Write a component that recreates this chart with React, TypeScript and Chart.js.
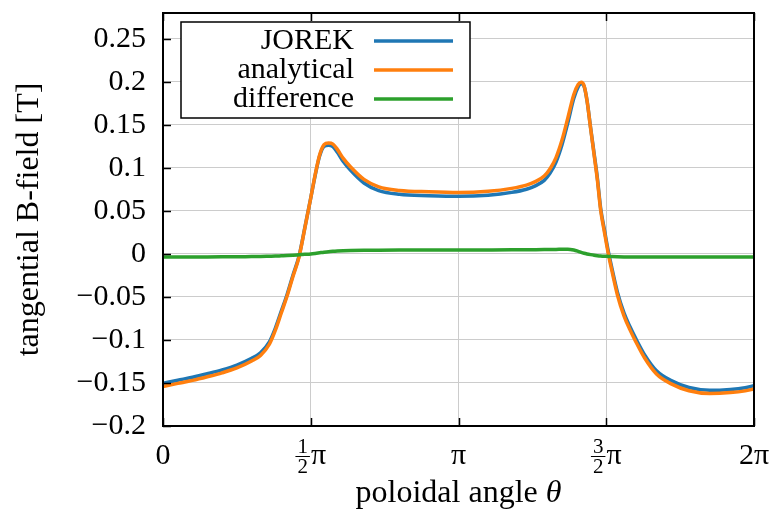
import React, { useEffect, useRef } from 'react';
import { Chart, registerables } from 'chart.js';

Chart.register(...registerables);

// poloidal angle in units of pi
const thetaOverPi = [
  0, 0.05, 0.1, 0.15, 0.2, 0.25, 0.3, 0.33, 0.36, 0.38,
  0.4, 0.42, 0.44, 0.46, 0.48, 0.5, 0.515, 0.53, 0.545, 0.56,
  0.575, 0.59, 0.61, 0.635, 0.68, 0.73, 0.8, 0.9, 1.0, 1.1,
  1.18, 1.23, 1.26, 1.29, 1.31, 1.33, 1.35, 1.37, 1.39, 1.405,
  1.415, 1.425, 1.435, 1.447, 1.459, 1.47, 1.481, 1.494, 1.507, 1.52,
  1.538, 1.56, 1.58, 1.6, 1.63, 1.67, 1.72, 1.78, 1.85, 1.92,
  1.97, 2.0,
];

const jorek = [
  -0.1503, -0.1468, -0.1434, -0.1393, -0.1348, -0.1292, -0.1214, -0.115, -0.1023, -0.0865,
  -0.0668, -0.0471, -0.0245, -0.003, 0.0305, 0.065, 0.0914, 0.1137, 0.125, 0.1264,
  0.1247, 0.1182, 0.1074, 0.0971, 0.0824, 0.0736, 0.0693, 0.0677, 0.0669, 0.0682,
  0.0715, 0.0752, 0.0791, 0.0855, 0.0939, 0.1068, 0.1266, 0.1525, 0.1805, 0.194,
  0.1977, 0.1947, 0.178, 0.1468, 0.1165, 0.088, 0.0532, 0.0276, 0.0029, -0.0179,
  -0.0447, -0.0685, -0.0844, -0.0984, -0.1173, -0.1358, -0.1473, -0.1553, -0.1585, -0.1575,
  -0.1555, -0.1533,
];

const analytical = [
  -0.154, -0.1505, -0.147, -0.1428, -0.1382, -0.1325, -0.1245, -0.118, -0.105, -0.089,
  -0.069, -0.049, -0.026, -0.004, 0.03, 0.065, 0.092, 0.115, 0.127, 0.129,
  0.1277, 0.1215, 0.111, 0.101, 0.0866, 0.078, 0.0738, 0.0722, 0.0714, 0.0728,
  0.0762, 0.08, 0.084, 0.0905, 0.099, 0.112, 0.132, 0.158, 0.185, 0.197,
  0.1995, 0.1955, 0.178, 0.146, 0.115, 0.086, 0.051, 0.025, 0.0, -0.021,
  -0.048, -0.072, -0.088, -0.102, -0.121, -0.1395, -0.151, -0.159, -0.1622, -0.1612,
  -0.1592, -0.157,
];

const difference = [
  -0.0037, -0.0037, -0.0036, -0.0035, -0.0034, -0.0033, -0.0031, -0.003, -0.0027, -0.0025,
  -0.0022, -0.0019, -0.0015, -0.001, -0.0005, 0.0, 0.0006, 0.0013, 0.002, 0.0026,
  0.003, 0.0033, 0.0036, 0.0039, 0.0042, 0.0044, 0.0045, 0.0045, 0.0045, 0.0046,
  0.0047, 0.0048, 0.0049, 0.005, 0.0051, 0.0052, 0.0054, 0.0055, 0.0045, 0.003,
  0.0018, 0.0008, 0.0, -0.0008, -0.0015, -0.002, -0.0024, -0.0027, -0.0029, -0.0031,
  -0.0033, -0.0035, -0.0036, -0.0036, -0.0037, -0.0037, -0.0037, -0.0037, -0.0037, -0.0037,
  -0.0037, -0.0037,
];

const seriesLabels = ['JOREK', 'analytical', 'difference'];
const seriesColors = ['#1f77b4', '#ff7f0e', '#2ca02c'];

const yTicks = [-0.2, -0.15, -0.1, -0.05, 0, 0.05, 0.1, 0.15, 0.2, 0.25];
const xTicks = [0, 0.5, 1, 1.5, 2];
// tick labels: [numerator, denominator, text]
const xTickLabels: [string, string, string][] = [
  ['', '', '0'],
  ['1', '2', 'π'],
  ['', '', 'π'],
  ['3', '2', 'π'],
  ['', '', '2π'],
];
const xTitleText = 'poloidal angle ';
const xTitleSymbol = 'θ';
const yTitleText = 'tangential B-field [T]';

const SERIF = '"Liberation Serif", "Times New Roman", serif';
const FS = 30;
const TITLE_FS = 32;

function fmtY(v: number): string {
  if (Math.abs(v) < 1e-9) return '0';
  const s = Math.abs(v).toFixed(2).replace(/0+$/, '').replace(/\.$/, '');
  return (v < 0 ? '\u2212' : '') + s;
}

const framePlugin = {
  id: 'framePlugin',
  afterDraw(chart: any) {
    const { ctx, chartArea } = chart;
    const { left, right, top, bottom } = chartArea;
    const xs = chart.scales.x;
    const ys = chart.scales.y;
    ctx.save();
    // inner tick marks
    ctx.strokeStyle = '#000';
    ctx.lineWidth = 1.5;
    const tl = 8;
    ctx.beginPath();
    yTicks.forEach((v) => {
      const py = Math.round(ys.getPixelForValue(v)) + 0.5;
      ctx.moveTo(left, py);
      ctx.lineTo(left + tl, py);
    });
    xTicks.forEach((v) => {
      const px = Math.round(xs.getPixelForValue(v)) + 0.5;
      ctx.moveTo(px, bottom);
      ctx.lineTo(px, bottom - tl);
      ctx.moveTo(px, top);
      ctx.lineTo(px, top + tl);
    });
    ctx.stroke();
    // frame
    ctx.lineWidth = 2;
    ctx.strokeRect(left, top, right - left, bottom - top);

    // x tick labels
    ctx.fillStyle = '#000';
    ctx.textBaseline = 'alphabetic';
    const base = 464;
    xTicks.forEach((v, i) => {
      const cx = xs.getPixelForValue(v);
      const [num, den, txt] = xTickLabels[i];
      ctx.font = `${FS}px ${SERIF}`;
      const tw = ctx.measureText(txt).width;
      if (!num) {
        ctx.textAlign = 'center';
        ctx.fillText(txt, cx, base);
        return;
      }
      ctx.font = `21px ${SERIF}`;
      const fw = Math.max(ctx.measureText(num).width, ctx.measureText(den).width) + 4;
      const total = fw + 1 + tw;
      const x0 = cx - total / 2;
      const barY = base - 8;
      ctx.textAlign = 'center';
      ctx.fillText(num, x0 + fw / 2, barY - 3);
      ctx.fillText(den, x0 + fw / 2, barY + 17);
      ctx.beginPath();
      ctx.lineWidth = 1;
      ctx.moveTo(x0, barY + 0.5);
      ctx.lineTo(x0 + fw, barY + 0.5);
      ctx.stroke();
      ctx.font = `${FS}px ${SERIF}`;
      ctx.textAlign = 'left';
      ctx.fillText(txt, x0 + fw + 1, base);
    });

    // x title
    ctx.font = `${TITLE_FS}px ${SERIF}`;
    const w1 = ctx.measureText(xTitleText).width;
    ctx.font = `italic ${TITLE_FS}px ${SERIF}`;
    const w2 = ctx.measureText(xTitleSymbol).width;
    const tx = (left + right) / 2 - (w1 + w2) / 2;
    ctx.textAlign = 'left';
    ctx.font = `${TITLE_FS}px ${SERIF}`;
    ctx.fillText(xTitleText, tx, 502);
    ctx.font = `italic ${TITLE_FS}px ${SERIF}`;
    ctx.fillText(xTitleSymbol, tx + w1, 502);

    // legend
    const bx = 181, by = 22, bw = 289, bh = 96;
    ctx.fillStyle = '#fff';
    ctx.fillRect(bx, by, bw, bh);
    ctx.strokeStyle = '#000';
    ctx.lineWidth = 1.5;
    ctx.strokeRect(bx, by, bw, bh);
    ctx.font = `${FS}px ${SERIF}`;
    ctx.textAlign = 'right';
    chart.data.datasets.forEach((ds: any, i: number) => {
      const ry = 41 + i * 29;
      ctx.fillStyle = '#000';
      ctx.fillText(ds.label, 354, ry + 8);
      ctx.strokeStyle = ds.borderColor;
      ctx.lineWidth = 3.5;
      ctx.beginPath();
      ctx.moveTo(374, ry);
      ctx.lineTo(453, ry);
      ctx.stroke();
    });
    ctx.restore();
  },
};

export default function App() {
  const ref = useRef<HTMLCanvasElement>(null);
  useEffect(() => {
    const canvas = ref.current!;
    const series = [jorek, analytical, difference];
    const chart = new Chart(canvas, {
      type: 'line',
      data: {
        datasets: series.map((vals, k) => ({
          label: seriesLabels[k],
          data: thetaOverPi.map((t, i) => ({ x: t, y: vals[i] })),
          borderColor: seriesColors[k],
          backgroundColor: seriesColors[k],
          borderWidth: 3.5,
          pointRadius: 0,
          fill: false,
          cubicInterpolationMode: 'monotone' as const,
          order: 2 - k,
        })),
      },
      options: {
        responsive: false,
        animation: false,
        layout: { padding: { top: 13, right: 18, left: 0, bottom: 0 } },
        plugins: { legend: { display: false }, tooltip: { enabled: false } },
        scales: {
          x: {
            type: 'linear',
            min: 0,
            max: 2,
            afterBuildTicks: (scale: any) => {
              scale.ticks = xTicks.map((value) => ({ value }));
            },
            afterFit: (scale: any) => {
              scale.height = 88;
              scale.paddingLeft = 0;
              scale.paddingRight = 0;
            },
            ticks: { display: false },
            grid: { color: '#cccccc', lineWidth: 1, drawTicks: false },
            border: { display: false },
          },
          y: {
            type: 'linear',
            min: -0.2,
            max: 0.28,
            afterBuildTicks: (scale: any) => {
              scale.ticks = yTicks.map((value) => ({ value }));
            },
            afterFit: (scale: any) => {
              scale.width = 163;
              scale.paddingTop = 0;
              scale.paddingBottom = 0;
            },
            ticks: {
              color: '#000',
              font: { family: SERIF, size: FS },
              padding: 17,
              callback: (v: any) => fmtY(Number(v)),
            },
            grid: { color: '#cccccc', lineWidth: 1, drawTicks: false },
            border: { display: false },
            title: {
              display: true,
              text: yTitleText,
              color: '#000',
              font: { family: SERIF, size: TITLE_FS },
              padding: { top: 10, bottom: 0 },
            },
          },
        },
      },
      plugins: [framePlugin],
    } as any);
    return () => chart.destroy();
  }, []);
  return (
    <div style={{ position: 'fixed', left: 0, top: 0, width: 772, height: 514, background: '#fff' }}>
      <canvas ref={ref} width={772} height={514} style={{ display: 'block' }} />
    </div>
  );
}
